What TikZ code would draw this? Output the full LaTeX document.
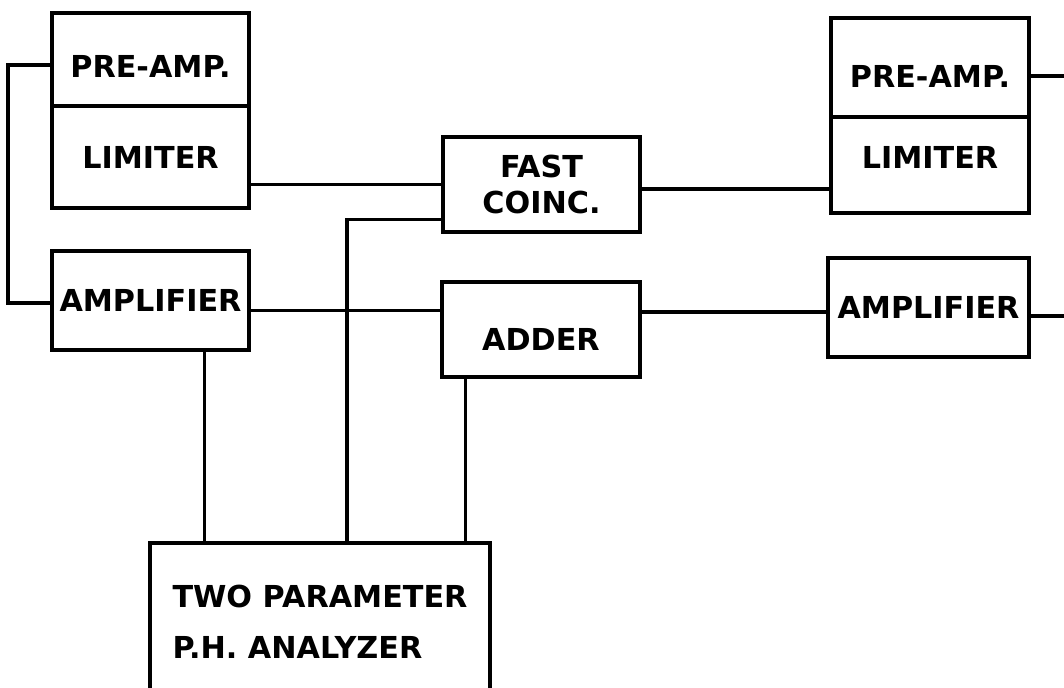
\documentclass[tikz,border=0pt]{standalone}
\usepackage{fontspec}
\setmainfont{DejaVu Sans}

\begin{document}
\begin{tikzpicture}[
  x=0.025cm, y=-0.025cm,
  font=\bfseries\fontsize{21.5}{26}\selectfont,
  box/.style={draw, line width=2.6pt, inner sep=0pt, align=center},
  wire/.style={line width=2.6pt}
]
\clip (0,0) rectangle (1064,687);
\coordinate (inL) at (8,0);
\coordinate (outR) at (1064,0);

% ---------- Left channel ----------
\node[box, minimum width=4.925cm, minimum height=2.325cm, text height=25pt] (preL) at (150.5,59.5) {PRE-AMP.};
\node[box, minimum width=4.925cm, minimum height=2.55cm]  (limL) at (150.5,157)  {LIMITER};
\node[box, minimum width=4.925cm, minimum height=2.475cm] (ampL) at (150.5,300.5) {AMPLIFIER};

% ---------- Middle ----------
\node[box, minimum width=4.925cm, minimum height=2.375cm] (fast) at (541.5,184.5) {FAST\\COINC.};
\node[box, minimum width=4.95cm, minimum height=2.375cm, text height=30pt] (adder) at (541,329.5) {ADDER};

% ---------- Right channel ----------
\node[box, minimum width=4.95cm, minimum height=2.475cm, text height=29pt] (preR) at (930,67.5) {PRE-AMP.};
\node[box, minimum width=4.95cm, minimum height=2.4cm, text depth=10pt]   (limR) at (930,165)  {LIMITER};
\node[box, minimum width=5.025cm, minimum height=2.475cm] (ampR) at (928.5,307.5) {AMPLIFIER};

% ---------- Analyzer ----------
\node[box, align=left, minimum width=8.5cm, minimum height=3.95cm] (ana) at (320,622)
  {TWO PARAMETER\\[10pt]P.H. ANALYZER};

% ---------- Signal lines ----------
\draw[wire] ([yshift=-4pt]preL.west) -- ([yshift=-4pt]preL.west -| inL) |- ([yshift=-2pt]ampL.west);
\draw[wire] (limL.east |- fast.west) -- (fast.west);
\draw[wire] ([yshift=-3pt]fast.east) -- ([yshift=-3pt]fast.east -| limR.west);
\draw[wire] ([yshift=-6pt]preR.east) -- ([yshift=-6pt]preR.east -| outR);
\draw[wire] ([yshift=-7pt]ampL.east) -- ([yshift=-7pt]ampL.east -| adder.west);
\draw[wire] ([yshift=-3pt]adder.east |- ampR.west) -- ([yshift=-3pt]ampR.west);
\draw[wire] ([yshift=-6pt]ampR.east) -- ([yshift=-6pt]ampR.east -| outR);

% ---------- Into the analyzer ----------
\draw[wire] ([xshift=-33pt]ampL.south east) -- ([xshift=-33pt]ampL.south east |- ana.north);
\draw[wire] ([yshift=-25pt]fast.west) -| ([xshift=19pt]ana.north);
\draw[wire] ([xshift=18pt]adder.south west) -- ([xshift=18pt]adder.south west |- ana.north);
\end{tikzpicture}
\end{document}
